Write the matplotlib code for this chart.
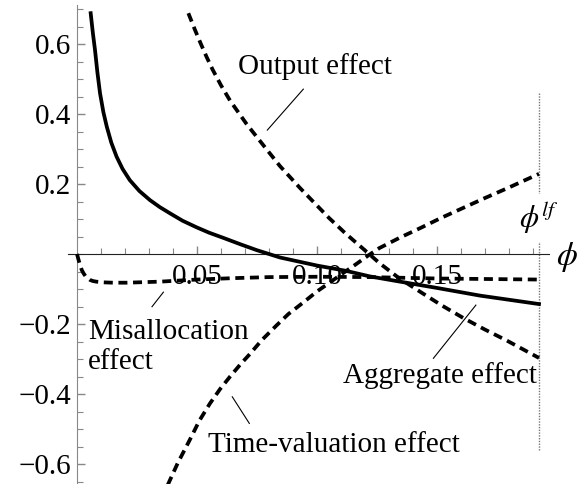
import matplotlib
matplotlib.use("Agg")
import matplotlib.pyplot as plt
import numpy as np

plt.rcParams['font.family'] = ['Liberation Serif', 'DejaVu Serif']
plt.rcParams['mathtext.fontset'] = 'stix'
plt.rcParams['axes.unicode_minus'] = True

# values
phi_lf = 0.1925

agg_x = [0.0057, 0.0066, 0.0075, 0.0085, 0.0096, 0.011, 0.0124, 0.0143, 0.0165,
         0.019, 0.022, 0.026, 0.0304, 0.0345, 0.0388, 0.044, 0.0499, 0.055,
         0.061, 0.068, 0.0749, 0.0846, 0.100, 0.112, 0.122, 0.1346, 0.150,
         0.168, 0.1925]
agg_y = [0.688, 0.632, 0.583, 0.519, 0.459, 0.405, 0.364, 0.318, 0.278,
         0.243, 0.211, 0.180, 0.154, 0.134, 0.116, 0.095, 0.076, 0.061,
         0.046, 0.028, 0.011, -0.010, -0.033, -0.048, -0.064, -0.079, -0.097,
         -0.119, -0.143]

out_x = [0.0464, 0.0490, 0.0515, 0.054, 0.0565, 0.060, 0.0638, 0.0707, 0.079,
         0.0846, 0.093, 0.0985, 0.105, 0.112, 0.1214, 0.126, 0.134, 0.143,
         0.152, 0.161, 0.170, 0.179, 0.1925]
out_y = [0.688, 0.643, 0.602, 0.563, 0.527, 0.482, 0.438, 0.371, 0.299,
         0.251, 0.188, 0.149, 0.103, 0.058, 0.002, -0.026, -0.068, -0.108,
         -0.147, -0.183, -0.216, -0.247, -0.297]

time_x = [0.0378, 0.0420, 0.047, 0.051, 0.0554, 0.0596, 0.0638, 0.068, 0.072,
          0.077, 0.083, 0.088, 0.094, 0.100, 0.105, 0.111, 0.1165, 0.1214,
          0.126, 0.1346, 0.143, 0.152, 0.161, 0.170, 0.179, 0.1925]
time_y = [-0.660, -0.597, -0.531, -0.476, -0.427, -0.386, -0.350, -0.316, -0.286,
          -0.246, -0.205, -0.172, -0.140, -0.107, -0.083, -0.054, -0.028, -0.004,
          0.017, 0.047, 0.074, 0.104, 0.132, 0.160, 0.187, 0.229]

mis_x = [0.0, 0.0005, 0.001, 0.0015, 0.002, 0.0028, 0.0035, 0.0045, 0.0054,
         0.0065, 0.008, 0.011, 0.015, 0.0207, 0.0346, 0.05, 0.065, 0.08, 0.100,
         0.122, 0.150, 0.1925]
mis_y = [0.0, -0.013, -0.025, -0.036, -0.046, -0.056, -0.063, -0.069, -0.074,
         -0.077, -0.079, -0.081, -0.082, -0.082, -0.079, -0.073, -0.069, -0.066,
         -0.065, -0.066, -0.070, -0.073]

x_ticks = [0.05, 0.10, 0.15]
x_ticklabels = ['0.05', '0.10', '0.15']
y_ticks = [-0.6, -0.4, -0.2, 0.2, 0.4, 0.6]
y_ticklabels = ['\u22120.6', '\u22120.4', '\u22120.2', '0.2', '0.4', '0.6']

fig = plt.figure(figsize=(5.79, 4.84), dpi=100)
ax = fig.add_axes([0, 0, 1, 1])
ax.set_xlim(-77 / 2400, 502 / 2400)
ax.set_ylim(-230 / 350, 254 / 350)

dash = (2.4, 1.5)
lw = 2.7
ax.plot(agg_x, agg_y, color='black', lw=lw, solid_joinstyle='round', zorder=5)
ax.plot(out_x, out_y, color='black', lw=lw, dashes=dash, zorder=5)
ax.plot(time_x, time_y, color='black', lw=lw, dashes=dash, zorder=5)
ax.plot(mis_x, mis_y, color='black', lw=lw, dashes=dash, zorder=5)

# laissez-faire reference line
ax.vlines(phi_lf, -0.56, 0.46, colors='#777777', lw=1, linestyles=(0, (1, 1)), zorder=2)
ax.text(phi_lf, 0.103, r'$\phi^{lf}$', fontsize=22, ha='center', va='center',
        bbox=dict(facecolor='white', edgecolor='none', pad=4), zorder=3)
ax.text(0.2040, -0.009, r'$\phi$', fontsize=24, ha='center', va='center')

# axes through the origin
for s in ['top', 'right']:
    ax.spines[s].set_visible(False)
ax.spines['left'].set_position(('data', 0))
ax.spines['bottom'].set_position(('data', 0))
ax.spines['left'].set_bounds(-0.66, 0.711)
ax.spines['bottom'].set_bounds(-0.0037, 0.1967)
ax.spines['left'].set_color('#888888')
ax.spines['bottom'].set_color('#222222')

ax.set_xticks(x_ticks)
ax.set_xticklabels(x_ticklabels)
ax.set_yticks(y_ticks)
ax.set_yticklabels(y_ticklabels)
ax.set_xticks(np.arange(1, 20) / 100, minor=True)
ax.set_yticks(np.arange(-13, 15) * 0.05, minor=True)
ax.tick_params(which='both', direction='in', color='#888888', labelsize=21)
ax.tick_params(which='major', length=6, width=1)
ax.tick_params(which='minor', length=4, width=0.8)
ax.tick_params(axis='x', pad=7)
ax.tick_params(axis='y', pad=4)

# curve labels
fs = 21
ax.text(0.0992, 0.537, 'Output effect', fontsize=fs, ha='center', va='center')
ax.plot([0.0943, 0.0793], [0.471, 0.354], color='black', lw=0.8)

ax.text(0.0046, -0.265, 'Misallocation\neffect', fontsize=fs, ha='left', va='center',
        linespacing=1.2)
ax.plot([0.03125, 0.036], [-0.1506, -0.109], color='black', lw=0.8)

ax.text(0.0546, -0.546, 'Time-valuation effect', fontsize=fs, ha='left', va='center')
ax.plot([0.0718, 0.0647], [-0.484, -0.408], color='black', lw=0.8)

ax.text(0.1512, -0.346, 'Aggregate effect', fontsize=fs, ha='center', va='center')
ax.plot([0.1485, 0.1662], [-0.298, -0.146], color='black', lw=0.8)

fig.savefig('out.png', dpi=100)
